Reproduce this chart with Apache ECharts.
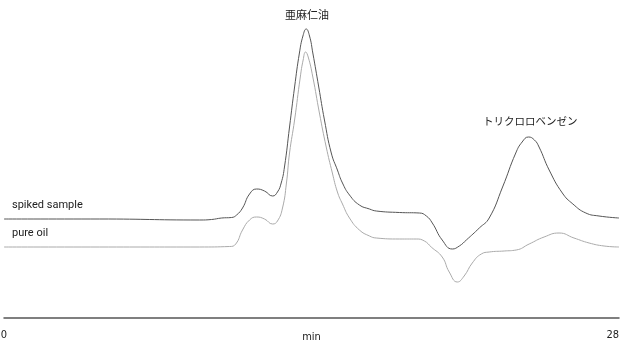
<!DOCTYPE html>
<html>
<head>
<meta charset="utf-8">
<script src="https://cdn.jsdelivr.net/npm/echarts@6/dist/echarts.min.js"></script>
<style>
  html, body { margin: 0; padding: 0; background: #fff; }
  #main { width: 622px; height: 342px; }
</style>
</head>
<body>
<div id="main"></div>
<script>
// retention time (min) and detector signal
let spikedTime = [0, 4.36, 8.91, 9.45, 9.91, 10.36, 10.59, 10.86, 11.18, 11.5, 11.86, 12.23, 12.45, 12.62, 12.77, 13.0, 13.23, 13.45, 13.61, 13.76, 13.91, 14.06, 14.33, 14.59, 14.9, 15.18, 15.41, 15.73, 16.18, 16.64, 16.95, 18.0, 18.91, 19.23, 19.5, 19.95, 20.41, 20.73, 21.05, 21.64, 22.09, 22.7, 23.3, 23.59, 23.88, 24.15, 24.36, 24.82, 25.42, 25.9, 26.49, 27.09, 28];
let spikedSignal = [99, 99, 98, 98.5, 100, 100.5, 103, 110, 124, 129, 127, 122, 126, 135, 151, 191, 231, 265, 282, 289, 282, 265, 231, 198, 165, 148, 135, 123, 113, 109, 107, 105.5, 105, 102, 95, 78, 69, 72, 78, 90, 100, 131, 165, 176, 181, 178, 171, 148, 125, 114, 105, 102, 100];

let pureTime = [0, 4.36, 8.91, 10.27, 10.55, 10.86, 11.18, 11.5, 11.86, 12.23, 12.45, 12.68, 12.86, 13.0, 13.23, 13.49, 13.62, 13.73, 13.85, 14.06, 14.36, 14.67, 14.95, 15.18, 15.41, 15.73, 16.18, 16.64, 16.95, 18.0, 18.77, 19.14, 19.45, 19.95, 20.27, 20.64, 20.95, 21.32, 21.73, 22.09, 22.77, 23.32, 23.91, 24.59, 25.27, 25.95, 26.64, 27.32, 28];
let pureSignal = [71, 71, 71, 71.5, 74, 88, 98, 101, 99, 94, 97, 110, 135, 165, 198, 241, 258, 266, 261, 241, 205, 171, 145, 126, 114, 100, 88, 82, 80, 79, 79, 77, 71, 61, 46, 36, 42, 55, 64, 66, 67, 68, 74, 81, 85, 80, 75, 72, 71];

let xTicks = [0, 28];

function pairs(xs, ys) {
    return xs.map((x, i) => [x, ys[i]]);
}

let axisFont = '"DejaVu Sans Condensed", "Liberation Sans Narrow", Roboto, sans-serif';

let chart = echarts.init(document.getElementById("main"));
option = {
    animation: false,
    grid: {
        left: 4,
        right: 3,
        top: 0,
        bottom: 24,
        containLabel: false,
        outerBoundsMode: 'none'
    },
    xAxis: {
        type: 'value',
        min: xTicks[0],
        max: xTicks[1],
        interval: 28,
        name: 'min',
        nameLocation: 'middle',
        nameGap: 14,
        nameMoveOverlap: false,
        nameTextStyle: { fontFamily: axisFont, fontSize: 11, color: '#222' },
        axisLine: { lineStyle: { color: '#555', width: 1.5 } },
        axisTick: { show: false },
        splitLine: { show: false },
        axisLabel: {
            margin: 12,
            fontFamily: axisFont,
            fontSize: 11,
            color: '#222',
            alignMaxLabel: 'right'
        }
    },
    yAxis: {
        type: 'value',
        min: 0,
        max: 318,
        show: false
    },
    series: [
        {
            name: 'spiked sample',
            type: 'line',
            smooth: 0.5,
            symbol: 'none',
            lineStyle: { color: '#555', width: 1 },
            data: pairs(spikedTime, spikedSignal)
        },
        {
            name: 'pure oil',
            type: 'line',
            smooth: 0.5,
            symbol: 'none',
            lineStyle: { color: '#aaa', width: 1 },
            data: pairs(pureTime, pureSignal)
        }
    ],
    graphic: [
        { type: 'text', left: 12, top: 200, style: { text: 'spiked sample', font: '11px Roboto', fill: '#222' } },
        { type: 'text', left: 12, top: 228, style: { text: 'pure oil', font: '11px Roboto', fill: '#222' } },
        { type: 'text', left: 285, top: 9, style: { text: '亜麻仁油', font: '11px "Noto Sans CJK JP"', fill: '#222' } },
        { type: 'text', left: 483, top: 116, style: { text: 'トリクロロベンゼン', font: '10.5px "Noto Sans CJK JP"', fill: '#222' } }
    ]
};
chart.setOption(option);
</script>
</body>
</html>
